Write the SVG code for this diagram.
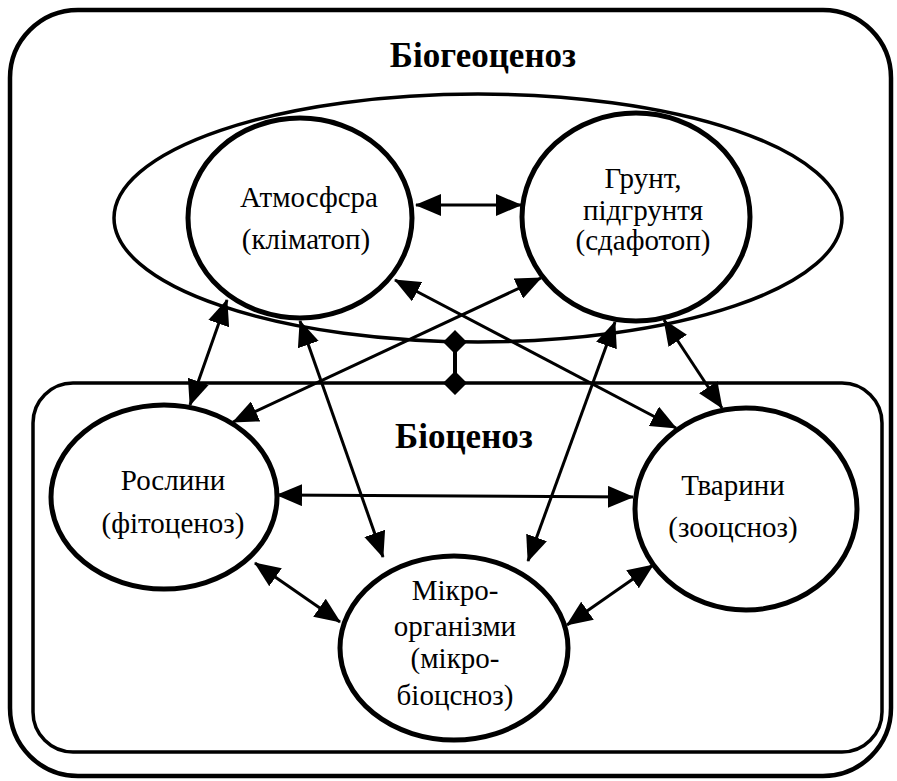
<svg xmlns="http://www.w3.org/2000/svg" width="897" height="781" viewBox="0 0 897 781">
<defs>
<marker id="ah" markerUnits="userSpaceOnUse" markerWidth="26" markerHeight="22" refX="25" refY="11" orient="auto-start-reverse" viewBox="0 0 26 22">
<path d="M0,0 L26,11 L0,22 z" fill="#000"/>
</marker>
<style>
.frame{fill:none;stroke:#000;stroke-width:4.5}
.node{fill:#fff;stroke:#000;stroke-width:5}
.ell{fill:none;stroke:#000;stroke-width:3.5}
.con{stroke:#000;stroke-width:3;fill:none;marker-start:url(#ah);marker-end:url(#ah)}
.t{font-family:"Liberation Serif","DejaVu Serif",serif;font-size:29px;fill:#000;text-anchor:middle}
.title{font-family:"Liberation Serif","DejaVu Serif",serif;font-size:35px;font-weight:bold;fill:#000;text-anchor:middle}
</style>
</defs>
<rect width="897" height="781" fill="#fff"/>
<g id="biogeocenoz">
<rect class="frame" x="10" y="10" width="881" height="766" rx="68"/>
<text class="title" x="483" y="67">Біогеоценоз</text>
</g>
<g id="abiotic">
<ellipse class="ell" cx="478" cy="218" rx="364" ry="124"/>
</g>
<g id="biocenoz">
<rect class="frame" x="33" y="383" width="849" height="369" rx="40" style="stroke-width:3.5"/>
<text class="title" x="464" y="448">Біоценоз</text>
</g>
<g id="atmosphere">
<ellipse class="node" cx="300" cy="218" rx="112" ry="100"/>
<text class="t" x="309" y="207">Атмосфсра</text>
<text class="t" x="306" y="249">(кліматоп)</text>
</g>
<g id="soil">
<ellipse class="node" cx="636" cy="217" rx="114" ry="104"/>
<text class="t" x="643" y="188">Грунт,</text>
<text class="t" x="643" y="220">підгрунтя</text>
<text class="t" x="643" y="250">(сдафотоп)</text>
</g>
<g id="plants">
<ellipse class="node" cx="164" cy="497" rx="113" ry="92"/>
<text class="t" x="173" y="490">Рослини</text>
<text class="t" x="173" y="533">(фітоценоз)</text>
</g>
<g id="animals">
<ellipse class="node" cx="746" cy="509" rx="111" ry="101"/>
<text class="t" x="733" y="495">Тварини</text>
<text class="t" x="733" y="537">(зооцсноз)</text>
</g>
<g id="micro">
<ellipse class="node" cx="454" cy="648" rx="114" ry="92"/>
<text class="t" x="455" y="600">Мікро-</text>
<text class="t" x="455" y="636">організми</text>
<text class="t" x="455" y="668">(мікро-</text>
<text class="t" x="455" y="705">біоцсноз)</text>
</g>
<g id="connectors">
<line class="con" x1="416" y1="205" x2="521" y2="205"/>
<line class="con" x1="227" y1="300" x2="190" y2="405"/>
<line class="con" x1="300" y1="321" x2="383" y2="557"/>
<line class="con" x1="395" y1="280" x2="676" y2="428"/>
<line class="con" x1="541" y1="278" x2="233" y2="422"/>
<line class="con" x1="615" y1="322" x2="528" y2="561"/>
<line class="con" x1="664" y1="320" x2="722" y2="408"/>
<line class="con" x1="277" y1="495" x2="633" y2="497"/>
<line class="con" x1="255" y1="563" x2="340" y2="622"/>
<line class="con" x1="653" y1="565" x2="567" y2="625"/>
<g id="diamond-link">
<line x1="455" y1="342" x2="455" y2="383" stroke="#000" stroke-width="4"/>
<path d="M455,330 L467,342 L455,354 L443,342 z M455,371 L467,383 L455,395 L443,383 z" fill="#000"/>
</g>
</g>
</svg>
